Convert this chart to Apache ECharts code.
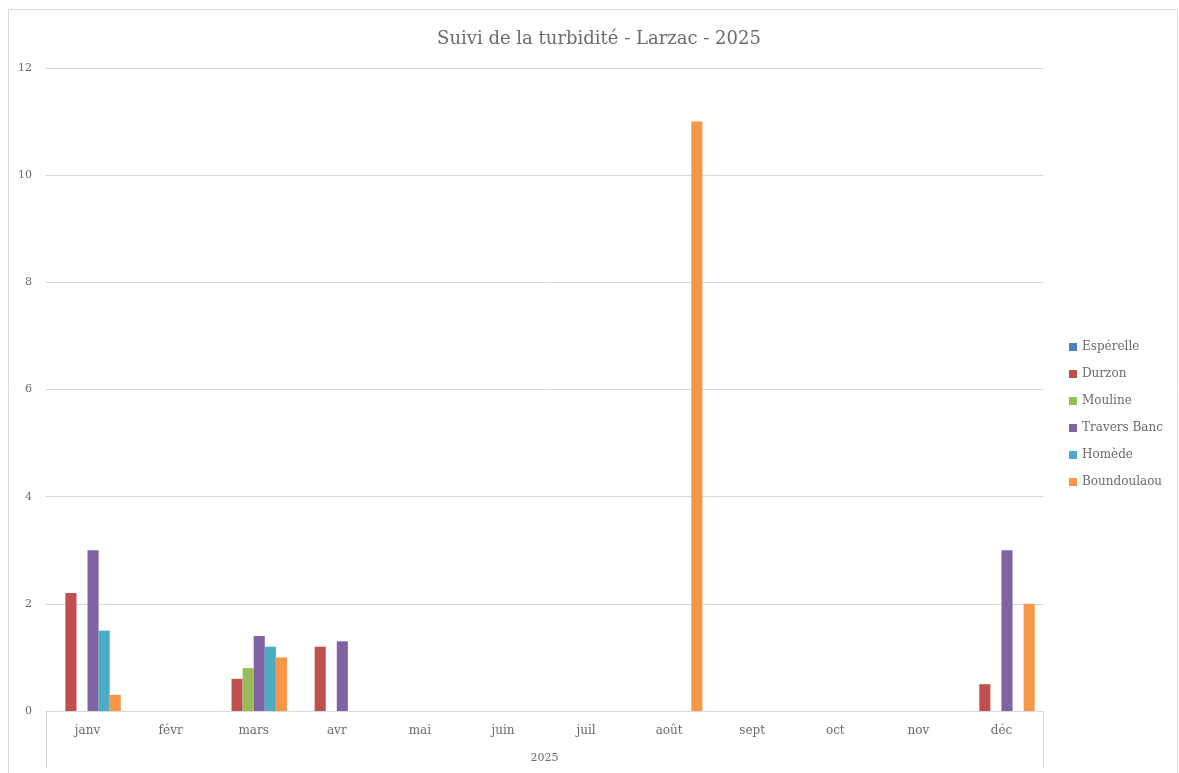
<!DOCTYPE html>
<html>
<head>
<meta charset="utf-8">
<script src="https://cdn.jsdelivr.net/npm/echarts@6/dist/echarts.min.js"></script>
<style>
  html, body { margin: 0; padding: 0; background: #fff; }
  #chart { width: 1179px; height: 773px; }
</style>
</head>
<body>
<div id="chart"></div>
<script>
// mois de l'année
var mois = ["janv", "févr", "mars", "avr", "mai", "juin", "juil", "août", "sept", "oct", "nov", "déc"];
var annee = ["2025"];

// turbidité par station (null = pas de mesure)
var esperelle   = [null, null, null, null, null, null, null, null, null, null, null, null];
var durzon      = [2.2, null, 0.6, 1.2, null, null, null, null, null, null, null, 0.5];
var mouline     = [null, null, 0.8, null, null, null, null, null, null, null, null, null];
var traversBanc = [3.0, null, 1.4, 1.3, null, null, null, null, null, null, null, 3.0];
var homede      = [1.5, null, 1.2, null, null, null, null, null, null, null, null, null];
var boundoulaou = [0.3, null, 1.0, null, null, null, null, 11, null, null, null, 2.0];

var yTicks = [0, 2, 4, 6, 8, 10, 12];

var police = "DejaVu Serif";

var chart = echarts.init(document.getElementById("chart"));

function serie(nom, data, couleur) {
    return {
        name: nom,
        type: "bar",
        data: data,
        barGap: "0%",
        barCategoryGap: "20%",
        itemStyle: { color: couleur }
    };
}

var option = {
    animation: false,
    textStyle: { fontFamily: police },
    title: {
        text: "Suivi de la turbidité - Larzac - 2025",
        left: 594,
        top: 25,
        textAlign: "center",
        textStyle: { fontFamily: police, fontSize: 18, fontWeight: "normal", color: "#6b6b6b" }
    },
    legend: {
        orient: "vertical",
        left: 1064,
        top: 336,
        itemWidth: 8,
        itemHeight: 8,
        itemGap: 15,
        icon: "rect",
        textStyle: { fontFamily: police, fontSize: 12, color: "#6b6b6b" }
    },
    grid: { left: 46, right: 136, top: 68, bottom: 62 },
    xAxis: [{
        type: "category",
        data: mois,
        axisLine: { lineStyle: { color: "#d9d9d9" } },
        axisTick: { show: false },
        axisLabel: { color: "#6b6b6b", fontSize: 12, margin: 14, fontFamily: police }
    }, {
        type: "category",
        data: annee,
        position: "bottom",
        axisLine: { show: false },
        axisTick: { show: true, length: 57, lineStyle: { color: "#d9d9d9" } },
        axisLabel: { color: "#6b6b6b", fontSize: 11, margin: 42, fontFamily: police }
    }],
    yAxis: {
        type: "value",
        min: yTicks[0],
        max: yTicks[yTicks.length - 1],
        interval: 2,
        axisLine: { show: false },
        axisTick: { show: false },
        splitLine: { lineStyle: { color: "#d9d9d9" } },
        axisLabel: { color: "#6b6b6b", fontSize: 11, margin: 14, fontFamily: police }
    },
    graphic: [{
        type: "rect",
        shape: { x: 8.5, y: 9.5, width: 1169, height: 780 },
        style: { fill: null, stroke: "#d9d9d9", lineWidth: 1 },
        silent: true
    }],
    series: [
        serie("Espérelle", esperelle, "#4F81BD"),
        serie("Durzon", durzon, "#C0504D"),
        serie("Mouline", mouline, "#9BBB59"),
        serie("Travers Banc", traversBanc, "#8064A2"),
        serie("Homède", homede, "#4BACC6"),
        serie("Boundoulaou", boundoulaou, "#F79646")
    ]
};

chart.setOption(option);
</script>
</body>
</html>
